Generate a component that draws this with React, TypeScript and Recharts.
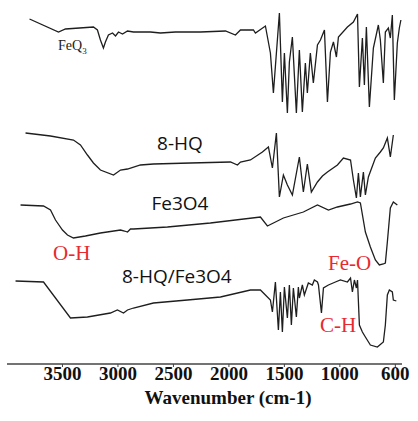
import React from "react";
import { LineChart, Line, XAxis, YAxis } from "recharts";

// Wavenumber (cm-1) / transmittance (a.u., stacked offsets)
const feq3 = [
  [3797, 345], [3536, 332], [3473, 335], [3221, 337], [3185, 334], [3158, 324], [3131, 316], [3113, 322],
  [3086, 329], [3049, 331], [3022, 328], [2995, 332], [2959, 330], [2914, 333], [2860, 332], [2707, 332],
  [2617, 331], [2482, 332], [2257, 332], [2031, 333], [1941, 329], [1896, 334], [1779, 334], [1761, 331],
  [1671, 338], [1626, 311], [1599, 271], [1545, 351], [1518, 262], [1500, 311], [1473, 251], [1455, 302],
  [1428, 327], [1392, 251], [1365, 314], [1338, 252], [1311, 301], [1293, 271], [1266, 311], [1239, 281],
  [1202, 319], [1175, 324], [1139, 334], [1112, 262], [1085, 312], [1058, 322], [1031, 307], [1013, 327],
  [932, 337], [878, 342], [841, 350], [824, 277], [797, 326], [779, 279], [761, 337], [734, 257],
  [698, 316], [653, 339], [635, 324], [608, 281], [590, 332], [563, 336], [545, 326], [527, 349],
  [509, 264], [482, 321], [464, 336], [450, 344],
].map(([w, t]) => ({ w, t }));

const hq = [
  [3833, 231], [3608, 228], [3401, 224], [3338, 219], [3275, 209], [3221, 201], [3158, 194], [3040, 189],
  [2977, 194], [2914, 195], [2797, 199], [2680, 200], [2347, 201], [1986, 202], [1923, 199], [1896, 202],
  [1806, 204], [1698, 212], [1644, 217], [1608, 196], [1572, 231], [1545, 167], [1509, 189], [1491, 184],
  [1473, 179], [1428, 169], [1365, 207], [1329, 172], [1293, 200], [1257, 172], [1202, 182], [1157, 188],
  [1112, 192], [1022, 199], [968, 206], [904, 204], [878, 184], [851, 166], [833, 191], [815, 167],
  [788, 192], [770, 169], [743, 187], [680, 206], [635, 212], [608, 216], [572, 226], [545, 207],
  [518, 229],
].map(([w, t]) => ({ w, t }));

const fe3o4 = [
  [3878, 159], [3671, 158], [3608, 154], [3563, 144], [3500, 134], [3455, 129], [3401, 126], [3293, 128],
  [3158, 131], [2977, 134], [2941, 133], [2914, 132], [2887, 135], [2860, 135], [2554, 137], [2167, 141],
  [1716, 147], [1653, 138], [1509, 146], [1329, 152], [1202, 159], [1103, 154], [1022, 157], [904, 160],
  [841, 162], [815, 161], [770, 132], [725, 117], [680, 104], [644, 99], [608, 100], [590, 101],
  [572, 122], [545, 156], [518, 162], [482, 159],
].map(([w, t]) => ({ w, t }));

const composite = [
  [3923, 83], [3671, 82], [3428, 46], [3275, 47], [3068, 51], [3005, 54], [2950, 51], [2914, 54],
  [2860, 56], [2680, 61], [2374, 64], [2076, 67], [1806, 74], [1716, 74], [1671, 69], [1626, 64],
  [1608, 52], [1581, 82], [1554, 34], [1536, 72], [1518, 32], [1500, 77], [1473, 46], [1455, 79],
  [1437, 39], [1419, 76], [1392, 47], [1374, 77], [1365, 66], [1338, 79], [1320, 69], [1284, 81],
  [1248, 79], [1230, 84], [1202, 82], [1193, 79], [1166, 51], [1148, 76], [1103, 79], [1040, 82],
  [995, 84], [932, 82], [904, 86], [887, 72], [869, 84], [851, 76], [841, 84], [824, 39],
  [797, 32], [770, 27], [725, 19], [662, 17], [608, 22], [590, 39], [572, 69], [554, 74],
  [527, 72], [518, 64], [491, 63],
].map(([w, t]) => ({ w, t }));

const tickValues = [3500, 3000, 2500, 2000, 1500, 1000, 500];
const tickLabels = ["3500", "3000", "2500", "2000", "1500", "1000", "600"];

const serif = "'Liberation Serif', 'Times New Roman', serif";
const sans = "'Open Sans', 'Noto Sans', sans-serif";
const red = "#e82a2f";
const lineColor = "#1e1e1e";

export default function App() {
  return (
    <div style={{ position: "absolute", left: 0, top: 0, width: 418, height: 421, background: "#fff" }}>
      <LineChart width={418} height={421} margin={{ top: 0, right: 16, left: 7, bottom: 0 }}>
        <XAxis
          type="number"
          dataKey="w"
          domain={[440, 4000]}
          reversed
          allowDataOverflow
          ticks={tickValues}
          tickFormatter={(v: number) => tickLabels[tickValues.indexOf(v)] ?? String(v)}
          height={57}
          tickSize={3}
          tickMargin={0}
          stroke="#444"
          axisLine={{ stroke: "#444", strokeWidth: 1.5 }}
          tick={{ fill: "#111", fontFamily: serif, fontSize: 19, fontWeight: 700 }}
          interval={0}
        />
        <YAxis hide type="number" domain={[0, 364]} allowDataOverflow />
        <Line data={feq3} dataKey="t" type="linear" dot={false} stroke={lineColor} strokeWidth={1.3} isAnimationActive={false} />
        <Line data={hq} dataKey="t" type="linear" dot={false} stroke={lineColor} strokeWidth={1.3} isAnimationActive={false} />
        <Line data={fe3o4} dataKey="t" type="linear" dot={false} stroke={lineColor} strokeWidth={1.3} isAnimationActive={false} />
        <Line data={composite} dataKey="t" type="linear" dot={false} stroke={lineColor} strokeWidth={1.3} isAnimationActive={false} />
      </LineChart>
      <svg width={418} height={421} style={{ position: "absolute", left: 0, top: 0, pointerEvents: "none" }}>
        <text x={58} y={50} fontFamily={serif} fontSize={14} fill="#222">
          FeQ<tspan fontSize={9} dy={4}>3</tspan>
        </text>
        <text x={180} y={150} textAnchor="middle" fontFamily={sans} fontSize={19} fill="#111">8-HQ</text>
        <text x={180} y={210} textAnchor="middle" fontFamily={sans} fontSize={19} fill="#111">Fe3O4</text>
        <text x={122} y={283} fontFamily={sans} fontSize={19} fill="#111">8-HQ/Fe3O4</text>
        <text x={53} y={260} fontFamily={serif} fontSize={21} fill={red}>O-H</text>
        <text x={328} y={270} fontFamily={serif} fontSize={21} fill={red}>Fe-O</text>
        <text x={320} y={332} fontFamily={serif} fontSize={21} fill={red}>C-H</text>
        <text x={228} y={404} textAnchor="middle" fontFamily={serif} fontSize={19} fontWeight={700} fill="#111">
          Wavenumber (cm-1)
        </text>
      </svg>
    </div>
  );
}
